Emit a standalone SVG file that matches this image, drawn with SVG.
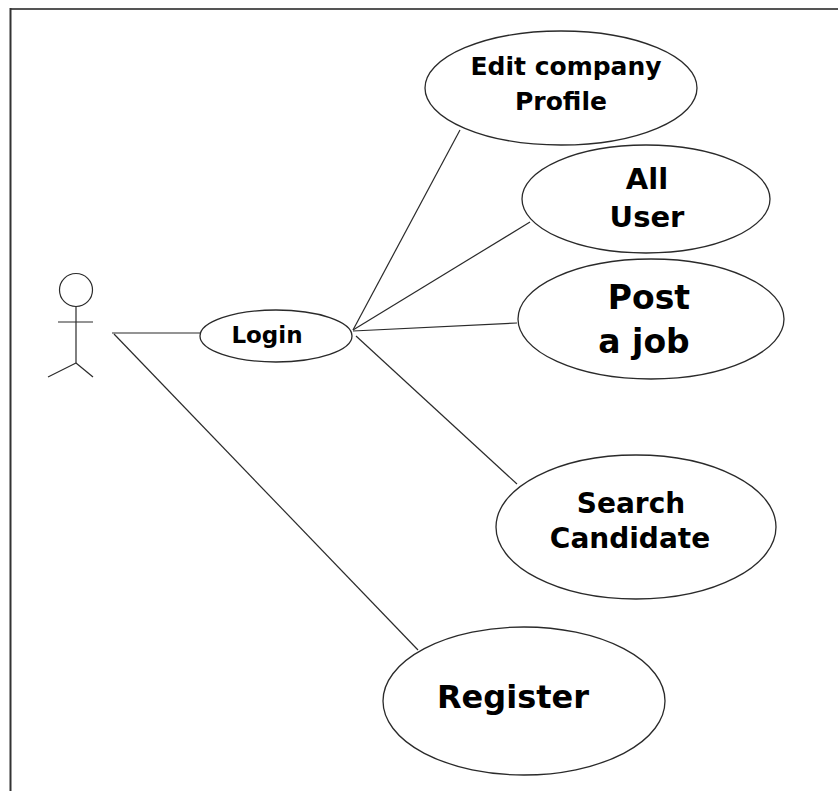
<svg xmlns="http://www.w3.org/2000/svg" width="838" height="791" viewBox="0 0 838 791">
<style>
.uc{fill:#fff;stroke:#2a2a2a;stroke-width:1.3}
.ln{stroke:#2a2a2a;stroke-width:1.2;fill:none}
.t{font-family:"DejaVu Sans",Verdana,sans-serif;font-weight:bold;fill:#000;text-anchor:middle}
</style>
<rect x="0" y="0" width="838" height="791" fill="#fff"/>
<g id="frame">
<line x1="10.5" y1="9" x2="838" y2="9" stroke="#555" stroke-width="2"/>
<line x1="10.5" y1="8" x2="10.5" y2="791" stroke="#333" stroke-width="2"/>
</g>
<g id="connectors">
<line class="ln" x1="112" y1="333" x2="200" y2="333"/>
<line class="ln" x1="114" y1="334" x2="418" y2="650"/>
<line class="ln" x1="353" y1="330" x2="460" y2="130"/>
<line class="ln" x1="353" y1="330" x2="530" y2="222"/>
<line class="ln" x1="353" y1="331" x2="517" y2="323"/>
<line class="ln" x1="356" y1="336" x2="517" y2="484"/>
</g>
<g id="actor" class="ln" stroke-width="1.4">
<circle cx="76" cy="290" r="16.5"/>
<line x1="76" y1="306.5" x2="76" y2="363"/>
<line x1="58" y1="322" x2="93" y2="322"/>
<line x1="76" y1="363" x2="48" y2="377"/>
<line x1="76" y1="363" x2="93" y2="377"/>
</g>
<g id="login">
<ellipse class="uc" cx="276" cy="336" rx="76" ry="26"/>
<text class="t" x="267" y="343" font-size="23">Login</text>
</g>
<g id="edit-profile">
<ellipse class="uc" cx="561" cy="88" rx="136" ry="57"/>
<text class="t" x="566" y="75" font-size="25">Edit company</text>
<text class="t" x="561" y="110" font-size="25">Profile</text>
</g>
<g id="all-user">
<ellipse class="uc" cx="646" cy="199" rx="124" ry="54"/>
<text class="t" x="647" y="189" font-size="29">All</text>
<text class="t" x="647" y="227" font-size="29">User</text>
</g>
<g id="post-job">
<ellipse class="uc" cx="651" cy="319" rx="133" ry="60"/>
<text class="t" x="649" y="309" font-size="33">Post</text>
<text class="t" x="644" y="353" font-size="33">a job</text>
</g>
<g id="search-candidate">
<ellipse class="uc" cx="636" cy="527" rx="140" ry="72"/>
<text class="t" x="631" y="513" font-size="28">Search</text>
<text class="t" x="630" y="548" font-size="28">Candidate</text>
</g>
<g id="register">
<ellipse class="uc" cx="524" cy="701" rx="141" ry="74"/>
<text class="t" x="513" y="708" font-size="32">Register</text>
</g>
</svg>
